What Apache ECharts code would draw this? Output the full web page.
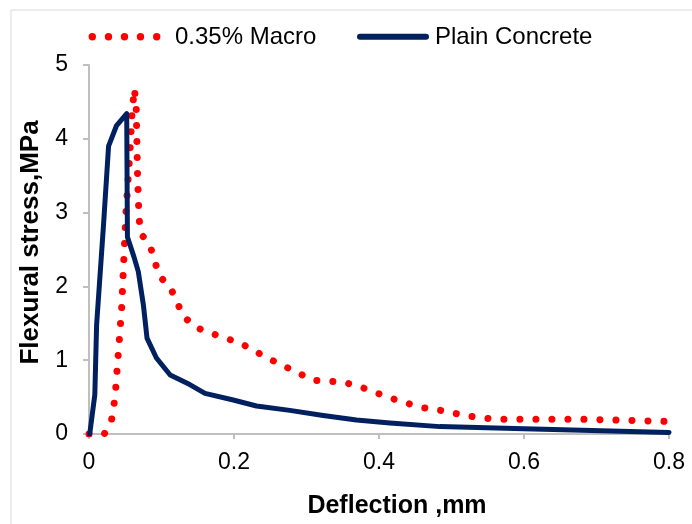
<!DOCTYPE html>
<html>
<head>
<meta charset="utf-8">
<script src="https://cdn.jsdelivr.net/npm/echarts@6/dist/echarts.min.js"></script>
<style>
  html, body { margin: 0; padding: 0; background: #fff; }
  #chart { width: 692px; height: 524px; }
</style>
</head>
<body>
<div id="chart"></div>
<script>
// 数据
var seriesNames = ['0.35% Macro', 'Plain Concrete'];
var macroPts = [
  [0, 0], [0.021, 0], [0.031, 0.18], [0.036, 0.5], [0.040, 1.04], [0.045, 1.7],
  [0.048, 2.36], [0.051, 3.0], [0.054, 3.46], [0.057, 3.9], [0.059, 4.3], [0.0625, 4.68],
  [0.065, 4.47], [0.066, 4.0], [0.067, 3.5], [0.069, 2.92], [0.072, 2.71], [0.084, 2.56],
  [0.097, 2.14], [0.112, 1.99], [0.13, 1.6], [0.146, 1.45], [0.167, 1.37], [0.209, 1.23],
  [0.248, 1.02], [0.288, 0.83], [0.308, 0.73], [0.352, 0.7], [0.374, 0.64], [0.415, 0.49],
  [0.458, 0.36], [0.48, 0.33], [0.525, 0.24], [0.56, 0.2], [0.68, 0.2], [0.8, 0.17]
];
var plainPts = [
  [0.001, 0], [0.008, 0.53], [0.0105, 1.48], [0.02, 2.83], [0.027, 3.9], [0.038, 4.18],
  [0.052, 4.34], [0.053, 2.67], [0.062, 2.4], [0.068, 2.2], [0.075, 1.75], [0.08, 1.3],
  [0.093, 1.03], [0.112, 0.8], [0.139, 0.67], [0.16, 0.55], [0.199, 0.46], [0.231, 0.38],
  [0.277, 0.32], [0.323, 0.25], [0.369, 0.19], [0.415, 0.15], [0.484, 0.1], [0.6, 0.07],
  [0.8, 0.02]
];
var xTitle = 'Deflection ,mm';
var yTitle = 'Flexural stress,MPa';

var font = "'Liberation Sans', Arial, sans-serif";
var axisGray = '#bfbfbf';
var red = '#ff0000', navy = '#002060';

// 图例（手工画：红点 + 深蓝实线）
var legendGraphic = [];
[92.3, 108.5, 124.5, 140.5, 156.7].forEach(function (cx) {
  legendGraphic.push({ type: 'circle', shape: { cx: cx, cy: 36.7, r: 3.7 }, style: { fill: red } });
});
legendGraphic.push({ type: 'text', x: 175, y: 37, style: { text: seriesNames[0], font: '24px ' + font, fill: '#000', verticalAlign: 'middle' } });
legendGraphic.push({ type: 'line', shape: { x1: 360, y1: 36.7, x2: 426, y2: 36.7 }, style: { stroke: navy, lineWidth: 6, lineCap: 'round' } });
legendGraphic.push({ type: 'text', x: 435, y: 37, style: { text: seriesNames[1], font: '24px ' + font, fill: '#000', verticalAlign: 'middle' } });

var myChart = echarts.init(document.getElementById('chart'));
var option = {
  animation: false,
  graphic: [{
    type: 'rect',
    shape: { x: 11, y: 10, width: 720, height: 600 },
    style: { fill: 'none', stroke: '#d9d9d9', lineWidth: 1 }
  }].concat(legendGraphic),
  grid: { left: 89, right: 23, top: 65, bottom: 88, containLabel: false },
  xAxis: {
    type: 'value', min: 0, max: 0.8, interval: 0.2,
    name: xTitle, nameLocation: 'middle', nameGap: 60,
    nameTextStyle: { fontFamily: font, fontSize: 25, fontWeight: 'bold', color: '#000', padding: [0, 0, 0, 36] },
    axisLine: { show: true, lineStyle: { color: axisGray, width: 2 } },
    axisTick: { show: true, length: 5, lineStyle: { color: axisGray, width: 2 } },
    axisLabel: { fontFamily: font, fontSize: 23, color: '#000', margin: 17 },
    splitLine: { show: false }
  },
  yAxis: {
    type: 'value', min: 0, max: 5, interval: 1,
    name: yTitle, nameLocation: 'middle', nameGap: 43, nameRotate: 90,
    nameTextStyle: { fontFamily: font, fontSize: 26, fontWeight: 'bold', color: '#000', padding: [0, 0, 0, 14] },
    axisLine: { show: true, lineStyle: { color: axisGray, width: 2 } },
    axisTick: { show: true, length: 6, lineStyle: { color: axisGray, width: 2 } },
    axisLabel: { fontFamily: font, fontSize: 23, color: '#000', margin: 21 },
    splitLine: { show: false }
  },
  series: [
    {
      name: seriesNames[0],
      type: 'line',
      data: macroPts,
      showSymbol: false,
      symbol: 'none',
      itemStyle: { color: red },
      lineStyle: { color: red, width: 7, type: [0.01, 16], cap: 'round' },
      z: 2
    },
    {
      name: seriesNames[1],
      type: 'line',
      data: plainPts,
      showSymbol: false,
      symbol: 'none',
      itemStyle: { color: navy },
      lineStyle: { color: navy, width: 5, cap: 'round', join: 'round' },
      z: 3
    }
  ]
};
myChart.setOption(option, true);
</script>
</body>
</html>
